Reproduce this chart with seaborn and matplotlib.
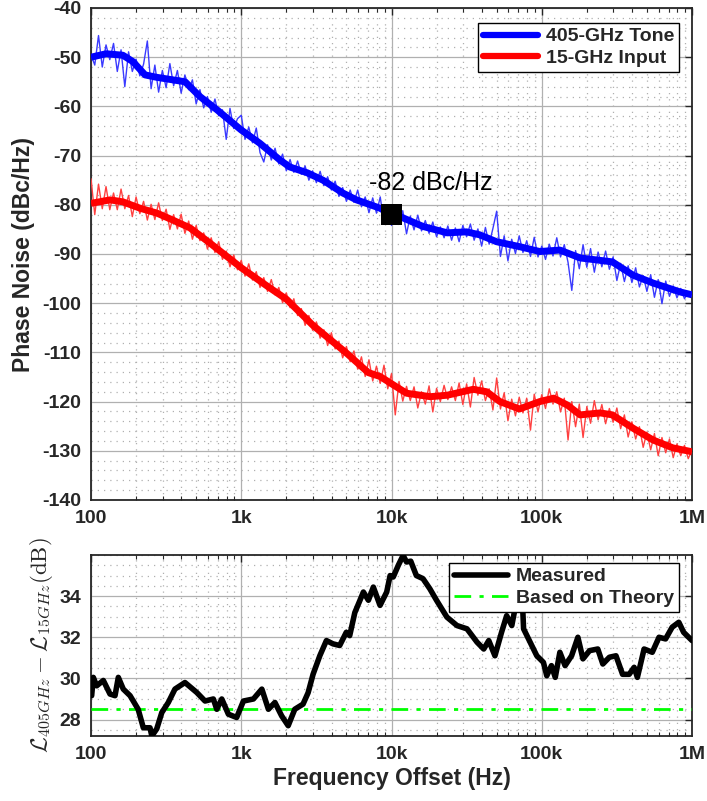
import numpy as np
import pandas as pd
import matplotlib
matplotlib.use("Agg")
import matplotlib.pyplot as plt
from matplotlib.ticker import FixedLocator, FixedFormatter, LogLocator, MultipleLocator, NullFormatter
from matplotlib.lines import Line2D
import seaborn as sns

# ---------------- data ----------------
# raw (unsmoothed) phase-noise traces, evenly spaced in log frequency 100 Hz .. 1 MHz
tone_raw_db = [
    -49.5, -51.6, -45.6, -52.0, -47.5, -50.5, -47.2, -52.9, -48.5, -56.0,
    -48.9, -52.9, -50.4, -53.8, -51.4, -46.7, -56.4, -51.6, -57.1, -52.7,
    -56.2, -51.3, -55.8, -52.7, -57.3, -53.6, -56.6, -54.6, -59.5, -56.6,
    -60.3, -58.0, -61.2, -58.5, -61.9, -60.7, -66.7, -60.4, -64.5, -62.5,
    -61.8, -66.7, -64.2, -67.4, -64.4, -69.4, -71.3, -67.8, -70.9, -68.5,
    -71.7, -69.7, -73.1, -70.8, -73.4, -71.1, -73.8, -72.1, -75.0, -73.1,
    -75.5, -73.2, -76.1, -74.3, -77.0, -75.2, -78.3, -76.5, -79.3, -77.0,
    -79.5, -77.0, -80.4, -78.4, -81.6, -78.6, -81.7, -78.4, -83.7, -80.3,
    -84.2, -80.5, -83.7, -81.2, -85.9, -82.3, -85.1, -82.1, -85.3, -83.2,
    -85.8, -83.5, -86.5, -84.5, -86.7, -84.3, -87.2, -84.7, -87.5, -84.2,
    -86.5, -83.9, -87.2, -84.9, -88.4, -84.6, -88.0, -84.8, -81.3, -90.5,
    -86.3, -91.4, -87.0, -89.9, -86.3, -89.7, -87.3, -90.5, -86.6, -90.6,
    -88.4, -91.1, -88.0, -90.4, -86.7, -90.6, -88.1, -91.7, -97.4, -89.3,
    -93.0, -88.1, -92.7, -88.9, -93.7, -89.6, -92.6, -89.4, -93.1, -90.6,
    -95.4, -91.9, -95.6, -92.4, -95.8, -92.8, -96.7, -94.4, -97.6, -94.2,
    -98.8, -95.2, -100.1, -95.5, -98.6, -96.5, -98.9, -97.0, -99.1, -97.7,
    -98.6,
]
input_raw_db = [
    -74.7, -82.0, -75.8, -80.8, -76.3, -81.0, -77.6, -81.0, -76.8, -80.8,
    -78.1, -82.4, -78.4, -81.8, -79.3, -83.1, -79.9, -83.0, -79.6, -83.2,
    -80.9, -85.0, -82.0, -84.9, -81.9, -85.8, -83.3, -87.0, -84.2, -87.3,
    -85.7, -89.0, -86.7, -89.7, -87.5, -91.1, -89.4, -92.6, -90.2, -93.2,
    -91.3, -94.5, -92.0, -95.3, -93.6, -96.8, -94.8, -97.6, -95.2, -98.3,
    -96.8, -99.9, -97.9, -100.9, -99.1, -102.5, -101.1, -104.5, -102.5, -105.5,
    -103.8, -107.1, -105.4, -108.6, -106.0, -109.3, -107.7, -111.1, -108.8, -111.9,
    -109.7, -113.4, -110.9, -114.9, -111.5, -115.8, -112.8, -116.3, -112.6, -117.4,
    -114.3, -122.7, -115.9, -119.9, -116.9, -119.8, -117.0, -121.3, -118.0, -120.5,
    -116.8, -122.1, -117.3, -120.0, -116.7, -119.6, -117.0, -119.8, -116.2, -120.6,
    -116.4, -121.1, -115.1, -118.7, -115.8, -119.8, -117.4, -121.7, -115.2, -121.5,
    -118.2, -123.9, -119.5, -122.9, -119.1, -122.3, -119.3, -125.8, -118.5, -122.1,
    -118.6, -121.4, -117.4, -120.5, -118.0, -122.1, -119.3, -127.8, -120.0, -125.1,
    -120.5, -127.3, -121.0, -124.4, -119.8, -123.7, -120.6, -124.5, -121.4, -124.2,
    -121.3, -125.5, -122.7, -127.2, -124.1, -127.6, -125.1, -129.3, -126.2, -129.8,
    -126.5, -131.0, -127.3, -130.4, -127.6, -131.4, -128.6, -131.0, -128.9, -131.6,
    -129.8,
]

# smoothed traces
tone_f = [100, 126, 163, 190, 229, 275, 423, 531, 690, 1000, 1330, 1810, 2100,
          2750, 3500, 4740, 5850, 8400, 10000, 11400, 16200, 23500, 31600, 38600,
          50000, 71000, 97000, 132000, 180000, 295000, 405000, 550000, 830000, 1000000]
tone_db = [-50.0, -49.3, -49.6, -50.9, -53.6, -54.1, -55.0, -58.0, -60.7, -64.8,
           -67.5, -70.9, -72.3, -73.5, -75.0, -77.6, -79.0, -80.7, -82.0, -82.4,
           -84.4, -85.7, -85.5, -86.1, -87.5, -88.5, -89.5, -89.2, -90.8, -91.6,
           -94.3, -95.9, -97.7, -98.3]

input_f = [100, 134, 163, 212, 275, 350, 456, 620, 1000, 1500, 2000, 3000, 5000,
           7000, 8400, 9800, 12600, 18100, 23500, 35000, 43000, 52700, 71000, 97000,
           120000, 148000, 180000, 245000, 295000, 405000, 550000, 745000, 1000000]
input_db = [-79.7, -79.0, -79.4, -80.7, -81.7, -83.1, -84.7, -87.8, -92.8, -96.6,
            -99.2, -104.5, -110.1, -114.1, -114.9, -116.2, -118.3, -119.0, -118.7,
            -117.5, -118.0, -120.0, -121.5, -120.0, -119.3, -120.7, -122.7, -122.3,
            -122.7, -125.4, -127.8, -129.4, -130.2]

# highlighted point
marker_f = [10000]
marker_db = [-82]

# difference between the two traces
diff_f = [101, 103.6, 109, 120.8, 133.8, 144.5, 152, 164, 182, 206, 223, 247, 254,
          274, 296, 327, 362, 422, 505, 574, 652, 687, 742, 821, 932, 1034, 1205,
          1371, 1516, 1675, 1857, 2053, 2271, 2578, 2785, 3006, 3333, 3688, 4080,
          4520, 5000, 5270, 5700, 6170, 6500, 7020, 7570, 8390, 9290, 9790, 10270,
          11100, 11950, 12590, 13430, 14640, 16200, 17990, 19930, 23370, 27270,
          31800, 37100, 41100, 44400, 48800, 54000, 58400, 63200, 68300, 73900,
          75700, 83700, 92700, 102600, 108000, 116000, 123000, 132000, 143000,
          158000, 174000, 188000, 208000, 236000, 255000, 282000, 312000, 345000,
          382000, 412000, 433000, 480000, 544000, 603000, 667000, 738000, 817000,
          880000, 1000000]
diff_db = [29.16, 30.05, 29.64, 29.9, 29.24, 29.16, 30.05, 29.48, 29.16, 28.5, 27.6,
           27.6, 27.2, 27.55, 28.34, 28.83, 29.48, 29.8, 29.32, 28.9, 29.0, 28.5,
           29.0, 28.26, 28.1, 28.9, 29.0, 29.48, 28.5, 28.83, 28.18, 27.7, 28.5,
           28.75, 29.3, 30.2, 31.1, 31.84, 31.68, 31.6, 32.24, 32.08, 33.2, 33.8,
           34.2, 33.8, 34.44, 33.55, 34.2, 35.0, 34.93, 35.5, 35.98, 35.66, 35.7,
           35.0, 34.85, 34.36, 33.8, 32.98, 32.57, 32.41, 31.76, 31.43, 31.84,
           31.1, 32.24, 33.05, 32.57, 33.87, 34.2, 32.41, 31.76, 31.1, 30.78,
           30.13, 30.62, 30.05, 31.27, 30.62, 31.1, 32.0, 30.95, 31.35, 31.43,
           30.7, 31.03, 31.1, 30.2, 30.2, 30.54, 30.05, 31.43, 31.27, 32.0, 31.92,
           32.49, 32.73, 32.24, 31.84]
theory_f = [100, 1000000]
theory_db = [28.5, 28.5]

xtick_vals = [1e2, 1e3, 1e4, 1e5, 1e6]
xtick_labels = ["100", "1k", "10k", "100k", "1M"]

# ---------------- style ----------------
sns.set_theme(style="white")
plt.rcParams["font.family"] = ["Liberation Sans", "DejaVu Sans"]
plt.rcParams["mathtext.fontset"] = "cm"
plt.rcParams["font.weight"] = "bold"
plt.rcParams["axes.unicode_minus"] = False

TXT = "#262626"
GRID = "#b0b0b0"

fig = plt.figure(figsize=(7.07, 8.01), dpi=100)
ax1 = fig.add_axes([91 / 707, 1 - 500 / 801, 601 / 707, 492 / 801])
ax2 = fig.add_axes([91 / 707, 1 - 736 / 801, 601 / 707, 181 / 801])

raw_f = np.logspace(2, 6, len(tone_raw_db))
raw = pd.DataFrame({"f": raw_f, "tone": tone_raw_db, "inp": input_raw_db})
tone = pd.DataFrame({"f": tone_f, "db": tone_db})
inp = pd.DataFrame({"f": input_f, "db": input_db})
diff = pd.DataFrame({"f": diff_f, "db": diff_db})
theory = pd.DataFrame({"f": theory_f, "db": theory_db})

# ---------- upper panel: phase noise ----------
sns.lineplot(data=raw, x="f", y="tone", ax=ax1, color="#3a3aff", lw=1.0,
             estimator=None, legend=False, zorder=3)
sns.lineplot(data=raw, x="f", y="inp", ax=ax1, color="#ff4040", lw=1.0,
             estimator=None, legend=False, zorder=3)
sns.lineplot(data=tone, x="f", y="db", ax=ax1, color="#0000ff", lw=5,
             estimator=None, legend=False, zorder=4, solid_capstyle="butt")
sns.lineplot(data=inp, x="f", y="db", ax=ax1, color="#ff0000", lw=5,
             estimator=None, legend=False, zorder=4, solid_capstyle="butt")
sns.scatterplot(x=marker_f, y=marker_db, ax=ax1, marker="s", s=230, color="black",
                edgecolor="none", zorder=6, legend=False)
ax1.text(7080, -75.5, f"{marker_db[0]:.0f} dBc/Hz", fontsize=18, fontweight="normal",
         ha="left", va="center", color="black", zorder=7)

ax1.set_ylim(-140, -40)
ax1.yaxis.set_major_locator(MultipleLocator(10))
ax1.yaxis.set_minor_locator(MultipleLocator(2))
ax1.set_ylabel("Phase Noise (dBc/Hz)", fontsize=16.5, fontweight="bold", color=TXT, labelpad=5)
ax1.set_xlabel("")

h1 = [Line2D([], [], color="#0000ff", lw=4.5), Line2D([], [], color="#ff0000", lw=4.5)]
leg1 = ax1.legend(h1, ["405-GHz Tone", "15-GHz Input"], loc="upper right",
                  bbox_to_anchor=(0.978, 0.9695), borderaxespad=0, fancybox=False,
                  framealpha=1, edgecolor="black", prop={"weight": "bold", "size": 14},
                  handlelength=2.8, handletextpad=0.4, borderpad=0.25, labelspacing=0.2)
leg1.get_frame().set_linewidth(1.0)
leg1.set_zorder(10)

# ---------- lower panel: difference ----------
sns.lineplot(data=theory, x="f", y="db", ax=ax2, color="#00ff00", lw=2,
             estimator=None, legend=False, zorder=3, linestyle=(0, (6, 3, 1.5, 3)))
sns.lineplot(data=diff, x="f", y="db", ax=ax2, color="black", lw=4,
             estimator=None, legend=False, zorder=4)
ax2.set_ylim(27.2, 36)
ax2.yaxis.set_major_locator(FixedLocator([28, 30, 32, 34]))
ax2.yaxis.set_minor_locator(MultipleLocator(0.5))
ax2.set_ylabel(r"$\mathcal{L}_{405GHz}-\mathcal{L}_{15GHz}(\mathrm{dB})$",
               fontsize=16.5, color=TXT, labelpad=3)
ax2.set_xlabel("Frequency Offset (Hz)", fontsize=16.5, fontweight="bold", color=TXT, labelpad=3)

h2 = [Line2D([], [], color="black", lw=4),
      Line2D([], [], color="#00ff00", lw=2, linestyle=(0, (6, 3, 1.5, 3)))]
leg2 = ax2.legend(h2, ["Measured", "Based on Theory"], loc="upper right",
                  bbox_to_anchor=(0.978, 0.956), borderaxespad=0, fancybox=False,
                  framealpha=1, edgecolor="black", prop={"weight": "bold", "size": 14},
                  handlelength=2.8, handletextpad=0.4, borderpad=0.25, labelspacing=0.2)
leg2.get_frame().set_linewidth(1.0)
leg2.set_zorder(10)

# ---------- shared axis styling ----------
for ax in (ax1, ax2):
    ax.set_xscale("log")
    ax.set_xlim(1e2, 1e6)
    ax.xaxis.set_major_locator(FixedLocator(xtick_vals))
    ax.xaxis.set_major_formatter(FixedFormatter(xtick_labels))
    ax.xaxis.set_minor_locator(LogLocator(base=10, subs=np.arange(2, 10), numticks=20))
    ax.xaxis.set_minor_formatter(NullFormatter())
    ax.grid(which="major", color=GRID, lw=0.9, ls="-", zorder=0)
    ax.grid(which="minor", color=GRID, lw=0.9, ls=(0, (1, 4)), zorder=0)
    ax.set_axisbelow(True)
    ax.tick_params(which="major", direction="in", length=5, width=1, top=True, right=True,
                   labelsize=14, colors=TXT, pad=7)
    ax.tick_params(axis="x", which="minor", direction="in", length=3, width=0.8,
                   top=True, bottom=True, colors=TXT)
    ax.tick_params(axis="y", which="minor", length=0)
    for lab in ax.get_xticklabels() + ax.get_yticklabels():
        lab.set_fontweight("bold")
    for sp in ax.spines.values():
        sp.set_color(TXT)
        sp.set_linewidth(1.3)
        sp.set_visible(True)

fig.savefig("out.png", dpi=100, facecolor="white")
